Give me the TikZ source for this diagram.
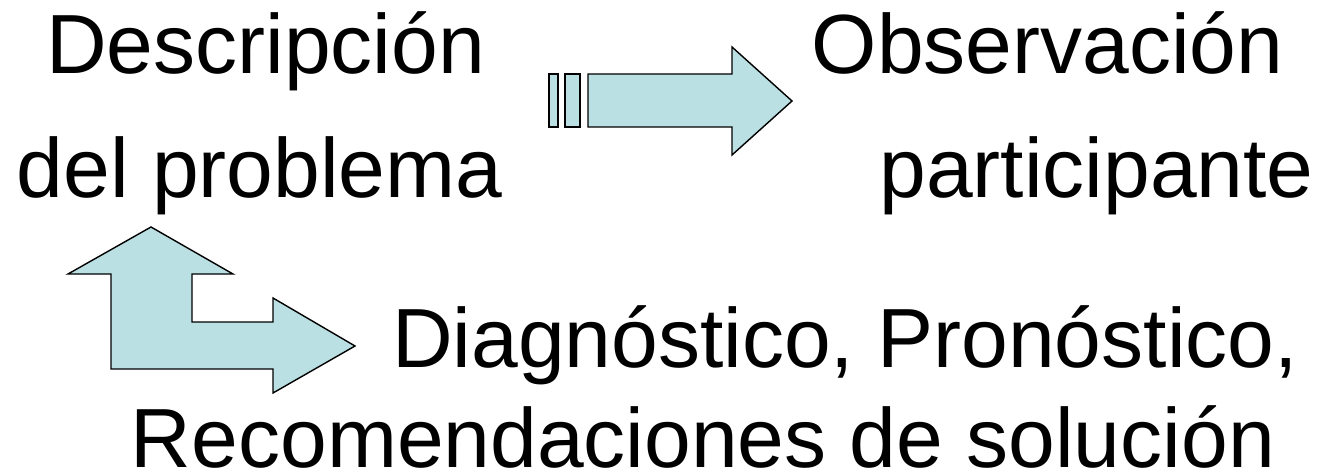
\documentclass[tikz,border=0pt]{standalone}
\usepackage{fontspec}
\setmainfont{Liberation Sans}
\definecolor{arrowfill}{RGB}{187,224,227}
\begin{document}
\begin{tikzpicture}[x=1pt,y=-1pt,
  lbl/.style={anchor=base,inner sep=0pt,font=\fontsize{84}{100}\selectfont},
  blockarrow/.style={draw=black,fill=arrowfill,line width=1.4pt,line join=miter}]
\useasboundingbox (0,0) rectangle (1335,476);
% texts
\node[lbl] (desc1) at (265.5,74) {Descripción};
\node[lbl] (desc2) at (259.5,197) {del problema};
\node[lbl] (obs1) at (1047.5,74) {Observación};
\node[lbl] (obs2) at (1096.5,197) {participante};
\node[lbl] (diag1) at (845,367) {Diagnóstico, Pronóstico,};
\node[lbl] (diag2) at (703,467) {Recomendaciones de solución};
% striped right arrow
\draw[blockarrow] (549,74) rectangle (558,127);
\draw[blockarrow] (565,74) rectangle (580,127);
\draw[blockarrow] (588,74) -- (732,74) -- (732,47) -- (792,101) -- (732,155) -- (732,127) -- (588,127) -- cycle;
% bent up/right arrow
\draw[blockarrow] (151,227) -- (233,274) -- (192,274) -- (192,322) -- (273,322) -- (273,298)
  -- (355,346) -- (273,393) -- (273,369) -- (111,369) -- (111,274) -- (68,274) -- cycle;
\end{tikzpicture}
\end{document}
